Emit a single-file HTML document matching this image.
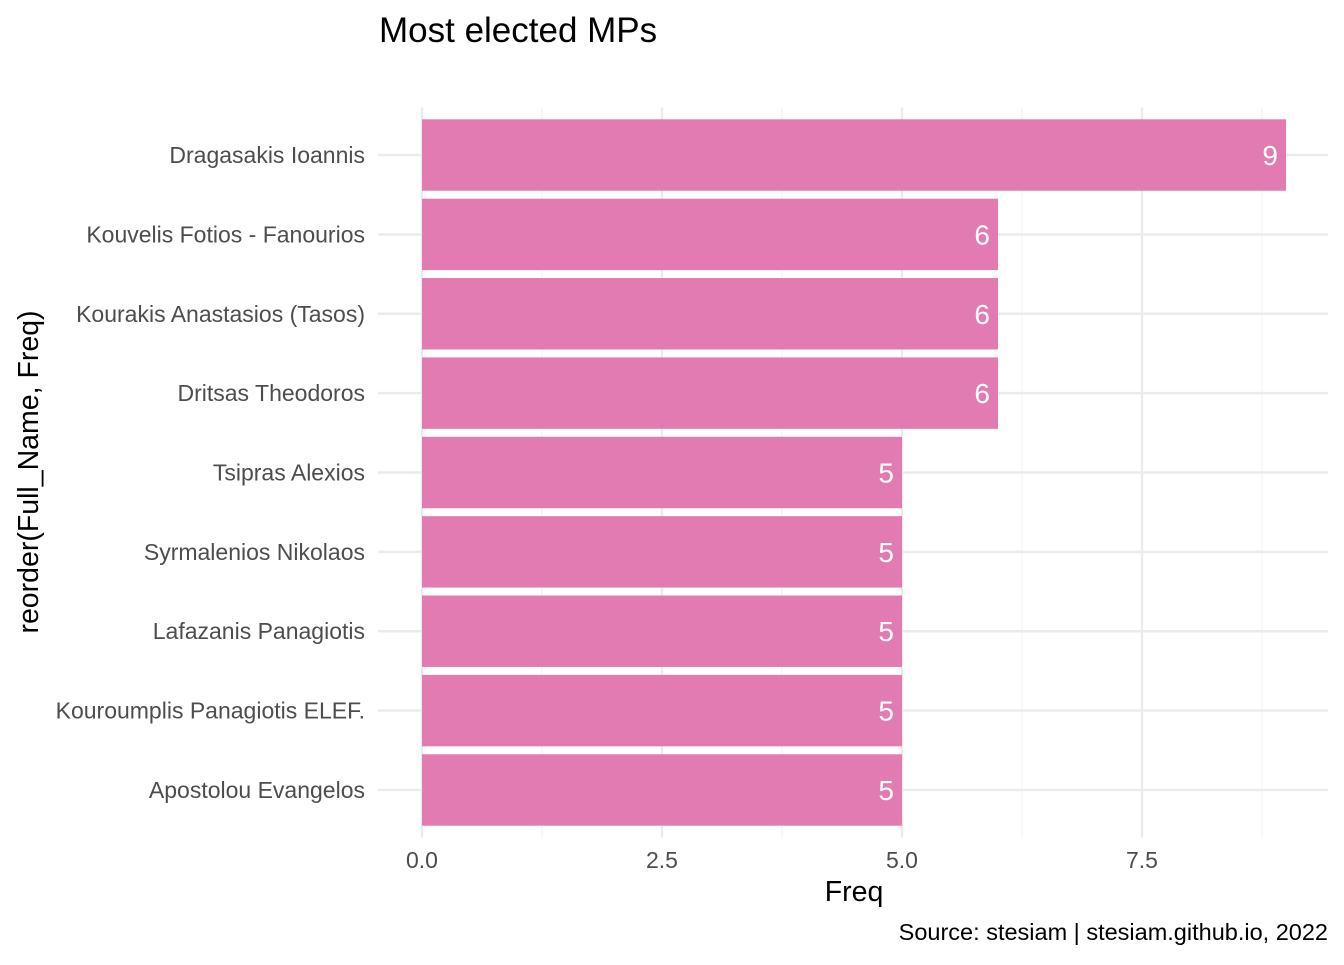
<!DOCTYPE html>
<html><head><meta charset="utf-8"><style>
body{margin:0;background:#fff;}
svg text{font-family:"Liberation Sans",Arial,sans-serif;}
</style></head><body>
<svg id="chart" width="1344" height="960" viewBox="0 0 1344 960" xmlns="http://www.w3.org/2000/svg">
<rect width="1344" height="960" fill="#fff"/>
<g id="grid"></g><g id="bars"></g><g id="labels"></g>
<text x="379" y="42" font-size="35" fill="#000">Most elected MPs</text>
<text x="854" y="901" font-size="28.5" text-anchor="middle" fill="#000">Freq</text>
<text transform="translate(38,472) rotate(-90)" font-size="28.5" text-anchor="middle" fill="#000">reorder(Full_Name, Freq)</text>
<text x="1328" y="940" font-size="23.5" text-anchor="end" fill="#000">Source: stesiam | stesiam.github.io, 2022</text>
</svg>
<script>
const categories=["Dragasakis Ioannis","Kouvelis Fotios - Fanourios","Kourakis Anastasios (Tasos)","Dritsas Theodoros","Tsipras Alexios","Syrmalenios Nikolaos","Lafazanis Panagiotis","Kouroumplis Panagiotis ELEF.","Apostolou Evangelos"];
const values=[9,6,6,6,5,5,5,5,5];
const xTicks=[0,2.5,5,7.5];
const xTickLabels=["0.0","2.5","5.0","7.5"];
const NS="http://www.w3.org/2000/svg";
const pL=378,pR=1328,pT=107.4,pB=837.6;
const x=v=>422+v*96;
const band=(pB-pT)/(categories.length+0.2);
const y=i=>pT+band*(0.6+i);
function mk(t,a,p){const e=document.createElementNS(NS,t);for(const k in a)e.setAttribute(k,a[k]);p.appendChild(e);return e;}
const grid=document.getElementById('grid'),bars=document.getElementById('bars'),labels=document.getElementById('labels');
for(let i=0;i<xTicks.length;i++){
 const m=xTicks[i]+1.25;
 const mn=mk('line',{x1:x(m),x2:x(m),y1:pT,y2:pB,stroke:'#f2f2f2','stroke-width':1.2},grid);
 
 
 const g=mk('line',{x1:x(xTicks[i]),x2:x(xTicks[i]),y1:pT,y2:pB,stroke:'#ebebeb','stroke-width':2.4},grid);
 
 
 const t=mk('text',{x:x(xTicks[i]),y:868,'font-size':23,'text-anchor':'middle',fill:'#4d4d4d'},labels);
 t.textContent=xTickLabels[i];
 
 
}
categories.forEach((c,i)=>{
 const g=mk('line',{x1:pL,x2:pR,y1:y(i),y2:y(i),stroke:'#ebebeb','stroke-width':2.4},grid);
 
 
 const h=band*0.9;
 const r=mk('rect',{x:x(0),y:y(i)-h/2,width:x(values[i])-x(0),height:h,fill:'#E17BB1'},bars);
 
 
 const t=mk('text',{x:365,y:y(i)+8,'font-size':23,'text-anchor':'end',fill:'#4d4d4d'},labels);
 t.textContent=c;
 
 
 const v=mk('text',{x:x(values[i])-8,y:y(i)+10,'font-size':28,'text-anchor':'end',fill:'#fff'},labels);
 v.textContent=values[i];
 
 
});
</script>
</body></html>
